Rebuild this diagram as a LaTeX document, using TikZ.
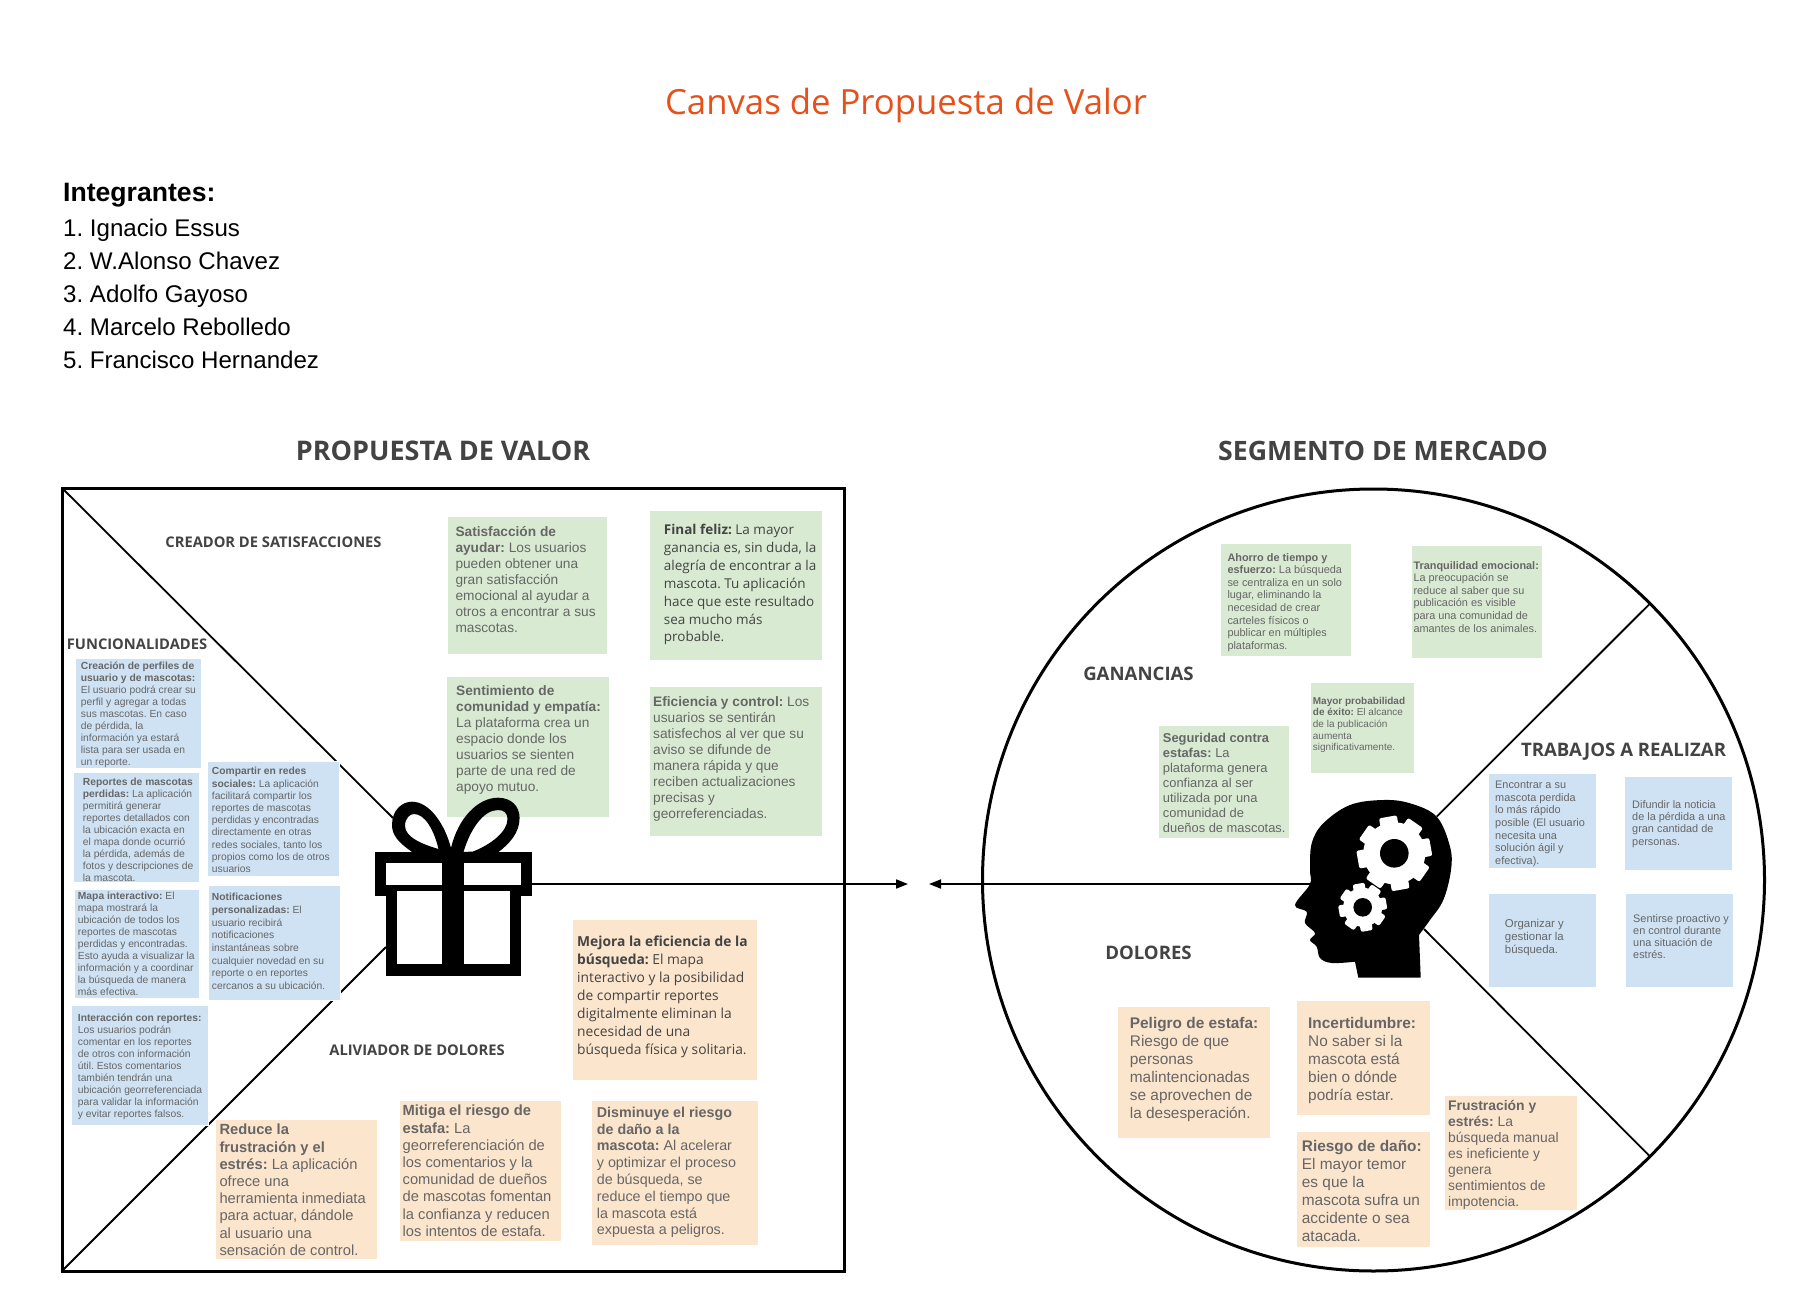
\documentclass[tikz,border=0pt]{standalone}
\usepackage{fontspec}
\setmainfont{Liberation Sans}
\newfontfamily\opensans{Open Sans}
\usetikzlibrary{arrows.meta}
\definecolor{notegreen}{HTML}{D9EAD3}
\definecolor{noteblue}{HTML}{CFE2F3}
\definecolor{noteorange}{HTML}{FCE5CD}
\definecolor{notegray}{HTML}{666666}
\definecolor{headgray}{HTML}{434343}
\definecolor{titleorange}{HTML}{E6501A}
\newcommand{\fs}[2]{\fontsize{#1}{#2}\selectfont}
\frenchspacing
\begin{document}
\begin{tikzpicture}[x=1pt, y=-1pt,
    greenbox/.style={fill=notegreen, draw=white, line width=0.5pt, anchor=north west, inner sep=0pt, outer sep=0pt},
    bluebox/.style={fill=noteblue, draw=white, line width=0.5pt, anchor=north west, inner sep=0pt, outer sep=0pt},
    orangebox/.style={fill=noteorange, draw=white, line width=0.5pt, anchor=north west, inner sep=0pt, outer sep=0pt},
    note/.style={anchor=north west, inner sep=0pt, align=left, text=notegray},
    opennote/.style={anchor=north west, inner sep=0pt, align=left, text=headgray},
    zone/.style={anchor=center, inner sep=0pt, text=headgray, font=\opensans\bfseries\fs{14.7}{18}},
    bigzone/.style={anchor=center, inner sep=0pt, text=headgray, font=\opensans\bfseries\fs{18.6}{22}},
    member/.style={anchor=base west, inner sep=0pt, font=\fs{24.1}{28}},
    conn/.style={black, line width=1.8pt},
    pointer/.style={conn, -{Triangle[length=12pt, width=9pt]}}]
    \useasboundingbox (0,0) rectangle (1796,1292);
    \fill[white] (0,0) rectangle (1796,1292);

    \node[anchor=center, inner sep=0pt, text=titleorange, font=\opensans\fs{34.7}{40}] (title) at (906,105.5) {Canvas de Propuesta de Valor};
    \node[anchor=base west, inner sep=0pt, font=\bfseries\fs{26.6}{30}] (integrantes) at (63,202) {Integrantes:};
    \node[member] (int1) at (63,236.5) {1. Ignacio Essus};
    \node[member] (int2) at (63,269.5) {2. W.Alonso Chavez};
    \node[member] (int3) at (63,302.5) {3. Adolfo Gayoso};
    \node[member] (int4) at (63,335.5) {4. Marcelo Rebolledo};
    \node[member] (int5) at (63,368.5) {5. Francisco Hernandez};
    \node[anchor=center, inner sep=0pt, text=headgray, font=\opensans\bfseries\fs{27}{30}] (propuesta) at (443,450.5) {PROPUESTA DE VALOR};
    \node[anchor=center, inner sep=0pt, text=headgray, font=\opensans\bfseries\fs{26.7}{30}] (segmento) at (1383,450.5) {SEGMENTO DE MERCADO};

    \node[draw, line width=3pt, minimum width=782, minimum height=783, anchor=north west, inner sep=0pt, outer sep=0pt] (frame) at (62,488) {};
    \node[circle, draw, line width=3pt, minimum size=782, inner sep=0pt, outer sep=0pt] (market) at (1373.5,880) {};

    \coordinate (giftul) at (393,818);
    \coordinate (giftll) at (386,947);
    \coordinate (giftout) at (532,884);
    \coordinate (tipl) at (908,884);
    \coordinate (tipr) at (929,884);
    \coordinate (headout) at (1310,884);
    \coordinate (headup) at (1436.7,816.7);
    \coordinate (headdown) at (1424,929);
    \draw[conn] (frame.north west) -- (giftul);
    \draw[conn] (frame.south west) -- (giftll);
    \draw[pointer] (giftout) -- (tipl);
    \draw[pointer] (headout) -- (tipr);
    \draw[conn] (headup) -- (market.45);
    \draw[conn] (headdown) -- (market.-45);

    \node[zone] (creador) at (273.5,542.7) {CREADOR DE SATISFACCIONES};
    \node[zone] (funcional) at (137,644.7) {FUNCIONALIDADES};
    \node[zone] (aliviador) at (417,1050) {ALIVIADOR DE DOLORES};
    \node[bigzone] (ganancias) at (1138.5,674) {GANANCIAS};
    \node[bigzone] (trabajos) at (1623.5,752) {TRABAJOS A REALIZAR};
    \node[bigzone] (dolores) at (1148.5,953) {DOLORES};

    \node[bluebox, minimum width=126, minimum height=110] (creacion) at (75.7,658) {};
    \node[note, font=\fs{10.3}{12}] (creaciontxt) at (80.7,661.7) {\textbf{Creación de perfiles de}\\\textbf{usuario y de mascotas:}\\El usuario podrá crear su\\perfil y agregar a todas\\sus mascotas. En caso\\de pérdida, la\\información ya estará\\lista para ser usada en\\un reporte.};
    \node[bluebox, minimum width=126, minimum height=110] (reportes) at (73.3,772) {};
    \node[note, font=\fs{10.3}{12}] (reportestxt) at (82.7,777.7) {\textbf{Reportes de mascotas}\\\textbf{perdidas:} La aplicación\\permitirá generar\\reportes detallados con\\la ubicación exacta en\\el mapa donde ocurrió\\la pérdida, además de\\fotos y descripciones de\\la mascota.};
    \node[bluebox, minimum width=132, minimum height=115] (compartir) at (207.7,761) {};
    \node[note, font=\fs{10.3}{12.2}] (compartirtxt) at (211.7,767.3) {\textbf{Compartir en redes}\\\textbf{sociales:} La aplicación\\facilitará compartir los\\reportes de mascotas\\perdidas y encontradas\\directamente en otras\\redes sociales, tanto los\\propios como los de otros\\usuarios};
    \node[bluebox, minimum width=125, minimum height=109] (mapa) at (74.7,889) {};
    \node[note, font=\fs{10.3}{12}] (mapatxt) at (77.7,891.8) {\textbf{Mapa interactivo:} El\\mapa mostrará la\\ubicación de todos los\\reportes de mascotas\\perdidas y encontradas.\\Esto ayuda a visualizar la\\información y a coordinar\\la búsqueda de manera\\más efectiva.};
    \node[bluebox, minimum width=132, minimum height=115] (notificaciones) at (208,885.3) {};
    \node[note, font=\fs{10.3}{12.7}] (notificacionestxt) at (211.7,893) {\textbf{Notificaciones}\\\textbf{personalizadas:} El\\usuario recibirá\\notificaciones\\instantáneas sobre\\cualquier novedad en su\\reporte o en reportes\\cercanos a su ubicación.};
    \node[bluebox, minimum width=137, minimum height=120] (interaccion) at (71.7,1005.3) {};
    \node[note, font=\fs{10.3}{12}] (interacciontxt) at (77.7,1013.7) {\textbf{Interacción con reportes:}\\Los usuarios podrán\\comentar en los reportes\\de otros con información\\útil. Estos comentarios\\también tendrán una\\ubicación georreferenciada\\para validar la información\\y evitar reportes falsos.};

    \node[greenbox, minimum width=160, minimum height=138] (satisfaccion) at (447,516) {};
    \node[note, font=\fs{13.7}{16}] (satisfacciontxt) at (455.3,526.7) {\textbf{Satisfacción de}\\\textbf{ayudar:} Los usuarios\\pueden obtener una\\gran satisfacción\\emocional al ayudar a\\otros a encontrar a sus\\mascotas.};
    \node[greenbox, minimum width=173, minimum height=150] (final) at (649,510) {};
    \node[opennote, font=\opensans\fs{13.5}{17.9}] (finaltxt) at (663.7,524) {\textbf{Final feliz:} La mayor\\ganancia es, sin duda, la\\alegría de encontrar a la\\mascota. Tu aplicación\\hace que este resultado\\sea mucho más\\probable.};
    \node[greenbox, minimum width=163.5, minimum height=141] (sentimiento) at (446,676) {};
    \node[note, font=\fs{13.7}{16}] (sentimientotxt) at (456,685) {\textbf{Sentimiento de}\\\textbf{comunidad y empatía:}\\La plataforma crea un\\espacio donde los\\usuarios se sienten\\parte de una red de\\apoyo mutuo.};
    \node[greenbox, minimum width=173, minimum height=150] (eficiencia) at (649,686) {};
    \node[note, font=\fs{13.7}{16}] (eficienciatxt) at (653,696) {\textbf{Eficiencia y control:} Los\\usuarios se sentirán\\satisfechos al ver que su\\aviso se difunde de\\manera rápida y que\\reciben actualizaciones\\precisas y\\georreferenciadas.};

    \node[orangebox, minimum width=185, minimum height=161] (mejora) at (572,919) {};
    \node[opennote, font=\opensans\fs{13.8}{18}] (mejoratxt) at (577,935.7) {\textbf{Mejora la eficiencia de la}\\\textbf{búsqueda:} El mapa\\interactivo y la posibilidad\\de compartir reportes\\digitalmente eliminan la\\necesidad de una\\búsqueda física y solitaria.};
    \node[orangebox, minimum width=162, minimum height=140.5] (reduce) at (215,1119) {};
    \node[note, font=\fs{14.7}{17.2}] (reducetxt) at (219.3,1124) {\textbf{Reduce la}\\\textbf{frustración y el}\\\textbf{estrés:} La aplicación\\ofrece una\\herramienta inmediata\\para actuar, dándole\\al usuario una\\sensación de control.};
    \node[orangebox, minimum width=162, minimum height=141] (mitiga) at (399,1100) {};
    \node[note, font=\fs{14.7}{17.2}] (mitigatxt) at (402.5,1105) {\textbf{Mitiga el riesgo de}\\\textbf{estafa:} La\\georreferenciación de\\los comentarios y la\\comunidad de dueños\\de mascotas fomentan\\la confianza y reducen\\los intentos de estafa.};
    \node[orangebox, minimum width=167, minimum height=145] (disminuye) at (591,1100) {};
    \node[note, font=\fs{14.3}{16.8}] (disminuyetxt) at (596.7,1106.7) {\textbf{Disminuye el riesgo}\\\textbf{de daño a la}\\\textbf{mascota:} Al acelerar\\y optimizar el proceso\\de búsqueda, se\\reduce el tiempo que\\la mascota está\\expuesta a peligros.};

    \node[greenbox, minimum width=131, minimum height=113.7] (ahorro) at (1220.3,543) {};
    \node[note, font=\fs{10.9}{12.6}] (ahorrotxt) at (1227.3,553) {\textbf{Ahorro de tiempo y}\\\textbf{esfuerzo:} La búsqueda\\se centraliza en un solo\\lugar, eliminando la\\necesidad de crear\\carteles físicos o\\publicar en múltiples\\plataformas.};
    \node[greenbox, minimum width=131, minimum height=113] (tranquilidad) at (1411,545) {};
    \node[note, font=\fs{10.9}{12.6}] (tranquilidadtxt) at (1413.3,561) {\textbf{Tranquilidad emocional:}\\La preocupación se\\reduce al saber que su\\publicación es visible\\para una comunidad de\\amantes de los animales.};
    \node[greenbox, minimum width=104, minimum height=91] (mayor) at (1310,682) {};
    \node[note, font=\fs{10}{11.7}] (mayortxt) at (1312.7,696.7) {\textbf{Mayor probabilidad}\\\textbf{de éxito:} El alcance\\de la publicación\\aumenta\\significativamente.};
    \node[greenbox, minimum width=131, minimum height=113.7] (seguridad) at (1158,725) {};
    \node[note, font=\fs{12.9}{15}] (seguridadtxt) at (1162.7,733) {\textbf{Seguridad contra}\\\textbf{estafas:} La\\plataforma genera\\confianza al ser\\utilizada por una\\comunidad de\\dueños de mascotas.};

    \node[bluebox, minimum width=108, minimum height=94.3] (encontrar) at (1488,773.7) {};
    \node[note, font=\fs{10.9}{12.6}] (encontrartxt) at (1495,781) {Encontrar a su\\mascota perdida\\lo más rápido\\posible (El usuario\\necesita una\\solución ágil y\\efectiva).};
    \node[bluebox, minimum width=108, minimum height=94] (difundir) at (1624,776) {};
    \node[note, font=\fs{10.9}{12.2}] (difundirtxt) at (1632,800.3) {Difundir la noticia\\de la pérdida a una\\gran cantidad de\\personas.};
    \node[bluebox, minimum width=108, minimum height=94] (organizar) at (1488,893) {};
    \node[note, font=\fs{11.4}{13}] (organizartxt) at (1504.7,918.7) {Organizar y\\gestionar la\\búsqueda.};
    \node[bluebox, minimum width=108, minimum height=94] (sentirse) at (1625,893) {};
    \node[note, font=\fs{10.9}{12.2}] (sentirsetxt) at (1633,914) {Sentirse proactivo y\\en control durante\\una situación de\\estrés.};

    \node[orangebox, minimum width=152.3, minimum height=132] (peligro) at (1117.7,1006) {};
    \node[note, font=\fs{15.4}{18}] (peligrotxt) at (1129.7,1017) {\textbf{Peligro de estafa:}\\Riesgo de que\\personas\\malintencionadas\\se aprovechen de\\la desesperación.};
    \node[orangebox, minimum width=134, minimum height=115] (incertidumbre) at (1296,1000) {};
    \node[note, font=\fs{15.4}{18}] (incertidumbretxt) at (1308,1017) {\textbf{Incertidumbre:}\\No saber si la\\mascota está\\bien o dónde\\podría estar.};
    \node[orangebox, minimum width=134, minimum height=116] (riesgo) at (1296,1131) {};
    \node[note, font=\fs{15.4}{18}] (riesgotxt) at (1301.7,1140) {\textbf{Riesgo de daño:}\\El mayor temor\\es que la\\mascota sufra un\\accidente o sea\\atacada.};
    \node[orangebox, minimum width=133.7, minimum height=115] (frustracion) at (1444,1095) {};
    \node[note, font=\fs{13.9}{16}] (frustraciontxt) at (1448,1100) {\textbf{Frustración y}\\\textbf{estrés:} La\\búsqueda manual\\es ineficiente y\\genera\\sentimientos de\\impotencia.};

    \fill[black] (374.5,852) rectangle (532,896);
    \fill[black] (386,896) rectangle (521,975.5);
    \fill[white] (386,863) rectangle (442,885);
    \fill[white] (464,863) rectangle (521,885);
    \fill[white] (397,891) rectangle (442,963.5);
    \fill[white] (464,891) rectangle (509.5,963.5);
    \fill[black, even odd rule] (412,852) .. controls (398,842) and (392,835) .. (392,825) .. controls (392,810) and (402,801.7) .. (412,801.7) .. controls (430,801.7) and (445,825) .. (451,848) -- (451,853) -- cycle
        (438.5,849) .. controls (425,845) and (405,838) .. (405,826) .. controls (405,818) and (410,814) .. (414,814) .. controls (425,814) and (434,830) .. (438.5,849) -- cycle;
    \fill[black, even odd rule] (451,848) .. controls (458,818) and (478,797.7) .. (498,797.7) .. controls (511,797.7) and (519.6,806) .. (519.6,818) .. controls (519.6,833) and (509,844) .. (498.5,852) -- (451,853) -- cycle
        (463.5,852) .. controls (470,830) and (483,810) .. (498,810) .. controls (504,810) and (507.5,813) .. (507.5,819) .. controls (507.5,832) and (490,845) .. (473,851.5) -- cycle;

    \fill[black] (1420.7,977.7) -- (1419,935) -- plot[smooth, tension=0.6] coordinates {(1419,935) (1430,920) (1443.3,900) (1451,870) (1450,846.7) (1436.7,816.7) (1410,803.3) (1383,800) (1350,805) (1323.3,823.3) (1311.7,843.3) (1310,870) (1310,884) (1295,905) (1306.7,911.7) (1305,923) (1315,933) (1310,940) (1316.7,946.7) (1320,958) (1331.7,963) (1355,961.7)} -- (1358.3,977.7) -- cycle;
    \foreach \cx/\cy/\ro/\rc/\rh/\tw in {1394.3/853.3/37/31/14.3/9, 1362.7/907.3/24/19.5/9.3/6} {
        \foreach \ang in {10,55,100,145} {
            \fill[white, rounded corners=2pt, rotate around={\ang:(\cx,\cy)}] ({\cx-\tw},{\cy-\ro}) rectangle ({\cx+\tw},{\cy+\ro});
        }
        \fill[white] (\cx,\cy) circle[radius=\rc pt];
        \fill[black] (\cx,\cy) circle[radius=\rh pt];
    }
\end{tikzpicture}
\end{document}
